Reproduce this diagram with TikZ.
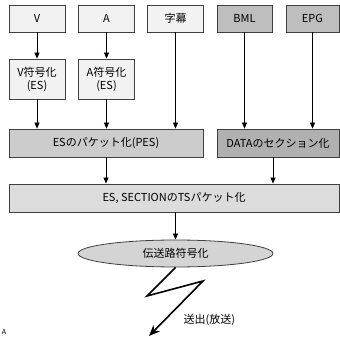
\documentclass[tikz,border=0pt]{standalone}
\usepackage{fontspec}
\setmainfont{Noto Sans CJK JP}
\usetikzlibrary{arrows.meta,shapes.geometric}
\definecolor{boxline}{RGB}{64,64,64}
\definecolor{clight}{RGB}{242,242,242}
\definecolor{cmid}{RGB}{190,190,190}
\definecolor{cpes}{RGB}{204,204,204}
\definecolor{cdata}{RGB}{176,176,176}
\definecolor{cts}{RGB}{220,220,220}
\definecolor{cenc}{RGB}{212,212,212}
\tikzset{flow/.style={x=1pt,y=-1pt,font=\fontsize{11}{13}\selectfont},
  blk/.style={draw=boxline,line width=0.8pt,minimum height=27pt,inner sep=0pt,align=center},
  feed/.style={line width=0.7pt,-{Triangle[length=6pt,width=5pt]}}}

\begin{document}
\begin{tikzpicture}[flow]
    \useasboundingbox (0,0) rectangle (340,339);
    \node[blk,fill=clight,minimum width=56pt] (v) at (37,18.5) {V};
    \node[blk,fill=clight,minimum width=56pt] (a) at (106.5,18.5) {A};
    \node[blk,fill=clight,minimum width=56pt] (sub) at (175.5,18.5) {字幕};
    \node[blk,fill=cmid,minimum width=55pt] (bml) at (244.5,18.5) {BML};
    \node[blk,fill=cmid,minimum width=53pt] (epg) at (312.5,18.5) {EPG};
    \node[blk,fill=clight,minimum width=56pt,minimum height=40pt] (venc) at (37,79) {V符号化\\(ES)};
    \node[blk,fill=clight,minimum width=56pt,minimum height=40pt] (aenc) at (106.5,79) {A符号化\\(ES)};
    \node[blk,fill=cpes,minimum width=194pt,minimum height=28pt] (pes) at (106,143) {ESのパケット化(PES)};
    \node[blk,fill=cdata,minimum width=122pt,minimum height=28pt] (data) at (278,143) {DATAのセクション化};
    \node[blk,fill=cts,minimum width=330pt,minimum height=28pt] (ts) at (174,198) {ES, SECTIONのTSパケット化};
    \node[ellipse,draw=boxline,line width=0.8pt,fill=cenc,minimum width=195pt,minimum height=27pt,inner sep=0pt] (enc) at (175.5,253.5) {伝送路符号化};
    \draw[feed] (v) -- (venc);
    \draw[feed] (a) -- (aenc);
    \foreach \s in {venc,aenc,sub} \draw[feed] (\s.south) -- (\s.south |- pes.north);
    \foreach \s in {bml,epg} \draw[feed] (\s.south) -- (\s.south |- data.north);
    \draw[feed] (pes.south) -- (pes.south |- ts.north);
    \draw[feed] ([xshift=-5pt]data.south) -- ([xshift=-5pt]data.south |- ts.north);
    \draw[feed] (enc.north |- ts.south) -- (enc.north);
    % lightning
    \coordinate (tip) at (149,336);
    \draw[line width=1.6pt,-{Stealth[length=11pt,width=9pt]}] (enc.south) -- (147,296) -- (203,281) -- (tip);
    \node[anchor=west] (out) at (180,320) {送出(放送)};
    \node[font=\fontsize{7}{8}\selectfont] (lbl) at (4,332) {A};
\end{tikzpicture}
\end{document}
